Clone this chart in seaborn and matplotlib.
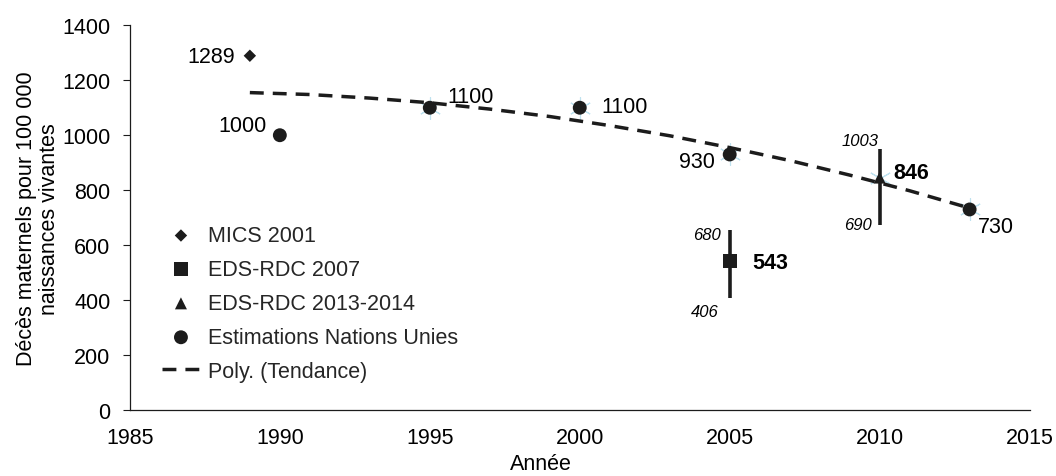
import numpy as np
import pandas as pd
import matplotlib
matplotlib.use("Agg")
import matplotlib.pyplot as plt
import seaborn as sns

# ---------------------------------------------------------------
# Données
# ---------------------------------------------------------------
mics_year = [1989]
mics_value = [1289]

eds07_year = [2005]
eds07_value = [543]
eds07_low = [407]
eds07_high = [655]

eds13_year = [2010]
eds13_value = [846]
eds13_low = [673]
eds13_high = [950]

un_years = [1990, 1995, 2000, 2005, 2013]
un_values = [1000, 1100, 1100, 930, 730]

# points de la courbe de tendance
trend_years = [1989, 1991, 1993, 1995, 1997, 1999, 2001, 2003, 2005, 2007, 2009, 2011, 2013]
trend_values = [1155, 1148, 1135, 1118, 1095, 1068, 1035, 998, 955, 908, 855, 798, 735]

# points "étoile" bleu clair de la série cachée
star_years = [1995, 2000, 2005, 2010, 2013]
star_values = [1100, 1100, 930, 846, 730]

# étiquettes (texte, x, y, alignement)
labels_regular = [("1289", 1988.5, 1287, 'right'), ("1000", 1989.57, 1036, 'right'),
                  ("1100", 1995.57, 1142, 'left'), ("1100", 2000.73, 1105, 'left'),
                  ("930", 2004.5, 905, 'right'), ("730", 2013.27, 669, 'left')]
labels_bold = [("543", 2005.77, 538), ("846", 2010.47, 865)]
labels_italic = [("680", 2004.7, 640), ("406", 2004.63, 360),
                 ("1003", 2009.97, 982), ("690", 2009.73, 676)]

sns.set_theme(style="white")
plt.rcParams['font.family'] = ['Liberation Sans', 'DejaVu Sans']

ink = '#1c1c1c'
fs = 15.5

fig = plt.figure(figsize=(10.56, 4.77), dpi=100)
ax = fig.add_axes([0.123, 0.138, 0.852, 0.807])

# tendance
trend = pd.DataFrame({'year': trend_years, 'value': trend_values})
sns.lineplot(data=trend, x='year', y='value', ax=ax, color=ink,
             linewidth=2.5, linestyle=(0, (4, 2.6)), label='Poly. (Tendance)', zorder=3)

# étoiles bleu clair
ax.plot(star_years, star_values, linestyle='none', marker=(6, 2, 0), markersize=16,
        markeredgecolor='#bfe2ef', markeredgewidth=0.8, zorder=2)

# barres d'erreur
for x, lo, hi in zip(eds07_year + eds13_year, eds07_low + eds13_low, eds07_high + eds13_high):
    ax.plot([x, x], [lo, hi], color=ink, linewidth=2.6, zorder=4, solid_capstyle='butt')

sns.scatterplot(x=mics_year, y=mics_value, ax=ax, marker='D', s=40, color=ink,
                edgecolor='none', label='MICS 2001', zorder=5)
sns.scatterplot(x=eds07_year, y=eds07_value, ax=ax, marker='s', s=100, color=ink,
                edgecolor='none', label='EDS-RDC 2007', zorder=5)
sns.scatterplot(x=eds13_year, y=eds13_value, ax=ax, marker='^', s=75, color=ink,
                edgecolor='none', label='EDS-RDC 2013-2014', zorder=5)
sns.scatterplot(x=un_years, y=un_values, ax=ax, marker='o', s=100, color=ink,
                edgecolor='none', label='Estimations Nations Unies', zorder=5)

# étiquettes de données
for t, x, y, ha in labels_regular:
    ax.text(x, y, t, ha=ha, va='center', fontsize=fs, color='black')
for t, x, y in labels_bold:
    ax.text(x, y, t, ha='left', va='center', fontsize=fs, fontweight='bold', color='black')
for t, x, y in labels_italic:
    ax.text(x, y, t, ha='right', va='center', fontsize=12, style='italic', color='black')

ax.set_xlim(1985, 2015)
ax.set_ylim(0, 1400)
ax.set_xticks(range(1985, 2016, 5))
ax.set_yticks(range(0, 1401, 200))
ax.tick_params(axis='both', labelsize=fs, labelcolor='black', color=ink)
ax.tick_params(axis='y', length=5, width=0.8, left=True, pad=9)
ax.tick_params(axis='x', length=0, pad=12)
for side in ['top', 'right']:
    ax.spines[side].set_visible(False)
for side in ['left', 'bottom']:
    ax.spines[side].set_color(ink)
    ax.spines[side].set_linewidth(0.9)

ax.set_xlabel("Année", fontsize=fs, color='black')
ax.xaxis.set_label_coords(0.457, -0.11)
ax.set_ylabel("Décès maternels pour 100 000\nnaissances vivantes", fontsize=fs, color='black',
              linespacing=1.1)
ax.yaxis.set_label_coords(-0.078, 0.5)

handles, labels = ax.get_legend_handles_labels()
order = ['MICS 2001', 'EDS-RDC 2007', 'EDS-RDC 2013-2014', 'Estimations Nations Unies', 'Poly. (Tendance)']
hmap = dict(zip(labels, handles))
ax.legend([hmap[k] for k in order], order, loc='upper left', bbox_to_anchor=(0.026, 0.503),
          frameon=False, fontsize=fs, handlelength=1.77, handletextpad=0.35, labelspacing=0.6,
          borderaxespad=0)

fig.savefig("out.png", dpi=100)
